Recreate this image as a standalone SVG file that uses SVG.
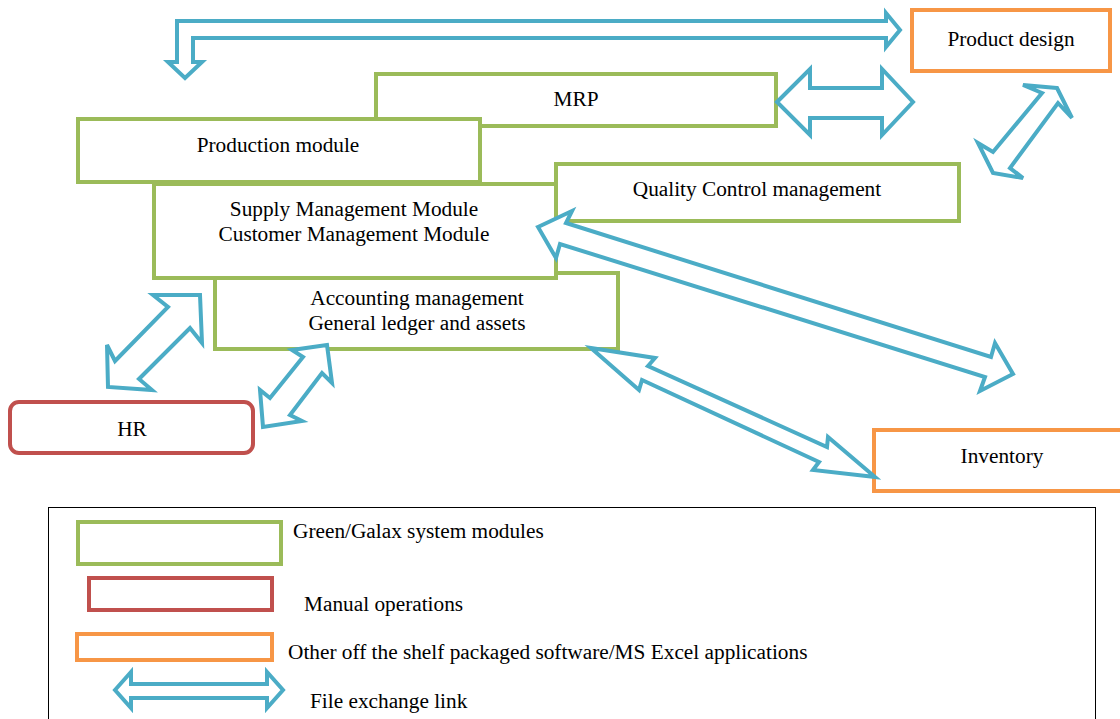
<svg xmlns="http://www.w3.org/2000/svg" width="1120" height="719" viewBox="0 0 1120 719">
<style>
.g{fill:#fff;stroke:#9BBB59;stroke-width:4}
.r{fill:#fff;stroke:#C0504D;stroke-width:4}
.o{fill:#fff;stroke:#F79646;stroke-width:4}
.a{fill:#fff;stroke:#4BACC6;stroke-width:4;stroke-linejoin:miter}
text{font-family:"Liberation Serif","Times New Roman",serif;font-size:21.3px;fill:#000}
.c{text-anchor:middle}
</style>
<rect width="1120" height="719" fill="#fff"/>
<g id="product-design"><rect class="o" x="912" y="10" width="198" height="61"/><text class="c" x="1011" y="46">Product design</text></g>
<g id="mrp"><rect class="g" x="376" y="74" width="400" height="52"/><text class="c" x="576" y="106">MRP</text></g>
<g id="production-module"><rect class="g" x="78" y="119" width="402" height="63"/><text class="c" x="278" y="152">Production module</text></g>
<g id="quality-control"><rect class="g" x="556" y="164" width="403" height="57"/><text class="c" x="757" y="196">Quality Control management</text></g>
<g id="accounting"><rect class="g" x="215" y="273" width="403" height="76"/><text class="c" x="417" y="305">Accounting management</text><text class="c" x="417" y="330">General ledger and assets</text></g>
<g id="supply-customer"><rect class="g" x="154" y="184" width="402" height="94"/><text class="c" x="354" y="216">Supply Management Module</text><text class="c" x="354" y="241">Customer Management Module</text></g>
<g id="hr"><rect class="r" x="10" y="402" width="243" height="51" rx="9"/><text class="c" x="132" y="436">HR</text></g>
<g id="inventory"><rect class="o" x="874" y="430" width="260" height="61"/><text class="c" x="1002" y="463">Inventory</text></g>
<g id="connectors">
<polygon class="a" points="177,21 886,21 886,13 900,30 886,47 886,38 193,38 193,62 202,62 185,78 168,62 177,62"/>
<polygon class="a" points="777,102 810,69 810,88 882,88 882,69 913,102 882,135 882,118 810,118 810,135"/>
<polygon class="a" points="1057,88 1023,85 1042,93 993,152 978,143 993,173 1023,178 1010,168 1058,103 1072,118"/>
<polygon class="a" points="538,227 572,211 566,223 991,357 995,343 1013,374 980,391 985,377 560,244 556,258"/>
<polygon class="a" points="591,348 655,358 648,366 827,447 828,437 875,477 813,470 819,462 642,380 639,390"/>
<polygon class="a" points="200,295 153,295 168,307 115,361 107,345 108,387 152,390 139,379 190,328 202,343"/>
<polygon class="a" points="327,345 292,350 303,357 270,398 260,390 263,427 302,421 290,415 322,373 332,383"/>
</g>
<g id="legend">
<rect x="48.5" y="507.5" width="1047" height="230" fill="none" stroke="#000" stroke-width="1"/>
<rect class="g" x="78" y="522" width="203" height="42"/>
<text x="293" y="538">Green/Galax system modules</text>
<rect class="r" x="89" y="578" width="183" height="32"/>
<text x="304" y="611">Manual operations</text>
<rect class="o" x="77" y="634" width="195" height="26"/>
<text x="288" y="659">Other off the shelf packaged software/MS Excel applications</text>
<polygon class="a" points="115,690 131,672 131,684 267,684 267,672 283,690 267,708 267,698 131,698 131,708"/>
<text x="310" y="708">File exchange link</text>
</g>
</svg>
